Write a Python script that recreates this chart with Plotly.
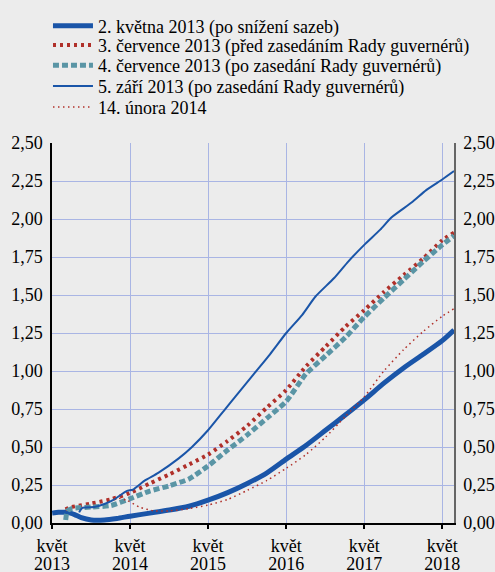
import plotly.graph_objects as go

# ---- data ----
s1_name = "2. května 2013 (po snížení sazeb)"
s1_dates = ["2013-05-02", "2013-06-01", "2013-07-15", "2013-08-15", "2013-09-15", "2013-11-01",
            "2014-01-01", "2014-03-01", "2014-05-01", "2014-08-01", "2014-11-01", "2015-02-01",
            "2015-05-01", "2015-08-01", "2015-11-01", "2016-02-01", "2016-05-01", "2016-08-01",
            "2016-11-01", "2017-02-01", "2017-05-01", "2017-08-01", "2017-11-01", "2018-02-01",
            "2018-05-01", "2018-06-25"]
s1_vals = [0.065, 0.07, 0.07, 0.055, 0.035, 0.02, 0.02, 0.03, 0.045, 0.065, 0.085, 0.11,
           0.15, 0.20, 0.26, 0.33, 0.42, 0.51, 0.61, 0.71, 0.81, 0.92, 1.02, 1.11, 1.20, 1.27]

s2_name = "3. července 2013 (před zasedáním Rady guvernérů)"
s2_dates = ["2013-07-03", "2013-08-01", "2013-11-01", "2014-02-01", "2014-05-01", "2014-08-01",
            "2014-11-01", "2015-02-01", "2015-05-01", "2015-08-01", "2015-11-01", "2016-02-01",
            "2016-05-01", "2016-08-01", "2016-11-01", "2017-02-01", "2017-05-01", "2017-08-01",
            "2017-11-01", "2018-02-01", "2018-05-01", "2018-06-25"]
s2_vals = [0.09, 0.105, 0.128, 0.156, 0.198, 0.26, 0.32, 0.385, 0.45, 0.54, 0.64, 0.76,
           0.875, 1.03, 1.16, 1.29, 1.40, 1.52, 1.63, 1.74, 1.86, 1.91]

s3_name = "4. července 2013 (po zasedání Rady guvernérů)"
s3_dates = ["2013-07-04", "2013-07-12", "2013-08-01", "2013-11-01", "2014-02-01", "2014-05-01",
            "2014-08-01", "2014-11-01", "2015-02-01", "2015-05-01", "2015-08-01", "2015-11-01",
            "2016-02-01", "2016-05-01", "2016-08-01", "2016-11-01", "2017-02-01", "2017-05-01",
            "2017-08-01", "2017-11-01", "2018-02-01", "2018-05-01", "2018-06-25"]
s3_vals = [0.02, 0.08, 0.095, 0.105, 0.115, 0.16, 0.21, 0.245, 0.29, 0.375, 0.48, 0.58,
           0.69, 0.80, 0.98, 1.10, 1.22, 1.355, 1.48, 1.60, 1.72, 1.83, 1.89]

s4_name = "5. září 2013 (po zasedání Rady guvernérů)"
s4_dates = ["2013-09-05", "2013-09-20", "2013-11-15", "2014-01-01", "2014-02-10", "2014-04-15",
            "2014-05-15", "2014-07-10", "2014-09-10", "2014-12-15", "2015-02-15", "2015-05-01",
            "2015-07-15", "2015-09-05", "2015-12-01", "2016-02-15", "2016-05-01", "2016-07-15",
            "2016-09-15", "2016-12-10", "2017-02-15", "2017-05-01", "2017-07-15", "2017-09-05",
            "2017-12-10", "2018-02-15", "2018-05-01", "2018-06-25"]
s4_vals = [0.07, 0.10, 0.105, 0.125, 0.15, 0.21, 0.22, 0.28, 0.33, 0.425, 0.50, 0.61,
           0.74, 0.83, 0.98, 1.11, 1.25, 1.37, 1.49, 1.61, 1.72, 1.83, 1.93, 2.01,
           2.11, 2.19, 2.26, 2.315]

s5_name = "14. února 2014"
s5_dates = ["2014-02-14", "2014-04-15", "2014-06-15", "2014-08-20", "2014-11-01", "2015-02-01",
            "2015-05-01", "2015-08-01", "2015-11-01", "2016-02-01", "2016-05-01", "2016-08-01",
            "2016-11-01", "2017-02-01", "2017-05-01", "2017-08-01", "2017-11-01", "2018-02-01",
            "2018-05-01", "2018-06-25"]
s5_vals = [0.17, 0.15, 0.105, 0.08, 0.08, 0.095, 0.118, 0.155, 0.215, 0.28, 0.36, 0.45,
           0.565, 0.70, 0.83, 1.0, 1.14, 1.26, 1.36, 1.41]

x_tick_vals = ["2013-05-01", "2014-05-01", "2015-05-01", "2016-05-01", "2017-05-01", "2018-05-01"]
x_tick_month = ["květ", "květ", "květ", "květ", "květ", "květ"]
x_tick_year = ["2013", "2014", "2015", "2016", "2017", "2018"]
y_tick_vals = [0, 0.25, 0.5, 0.75, 1.0, 1.25, 1.5, 1.75, 2.0, 2.25, 2.5]
x_range = ["2013-05-01", "2018-06-25"]

# ---- styling ----
BG = "#ECECEC"
BLUE = "#1A55A8"
RED = "#B0302A"
TEAL = "#5A95A5"
GRID = "#A9B5E4"
FONT = "Liberation Serif"
FS = 18

series = [
    (s1_name, s1_dates, s1_vals, dict(color=BLUE, width=5)),
    (s2_name, s2_dates, s2_vals, dict(color=RED, width=4, dash="3px,4px")),
    (s3_name, s3_dates, s3_vals, dict(color=TEAL, width=5, dash="6px,3px")),
    (s4_name, s4_dates, s4_vals, dict(color=BLUE, width=2)),
    (s5_name, s5_dates, s5_vals, dict(color=RED, width=1.5, dash="1.5px,3.5px")),
]
legend_names = ["legend", "legend2", "legend3", "legend4", "legend5"]
legend_rows_y = [1.308, 1.257, 1.204, 1.149, 1.094]

fig = go.Figure()
for (name, xs, ys, ln), lg in zip(series, legend_names):
    fig.add_trace(go.Scatter(x=xs, y=ys, name=name, mode="lines", legend=lg,
                             line=dict(shape="spline", smoothing=0.6, **ln)))
# invisible trace to activate the second x axis (year labels) and the right y axis
fig.add_trace(go.Scatter(x=[x_tick_vals[0]], y=[0], xaxis="x2", yaxis="y2", mode="lines",
                         showlegend=False, hoverinfo="skip", line=dict(width=0)))

legends = {}
for lg, ly in zip(legend_names, legend_rows_y):
    legends[lg] = dict(x=-0.01, y=ly, xanchor="left", yanchor="middle",
                       bgcolor="rgba(0,0,0,0)", itemwidth=40, borderwidth=0,
                       font=dict(size=FS, family=FONT, color="black"))

yax = dict(range=[0, 2.5], tickvals=y_tick_vals, tickformat=".2f",
           showgrid=True, gridcolor=GRID, gridwidth=1, zeroline=False,
           ticks="", ticklabelstandoff=4, tickfont=dict(size=FS, color="black", family=FONT))

fig.update_layout(
    width=495, height=572,
    paper_bgcolor=BG, plot_bgcolor=BG,
    separators=", ",
    font=dict(family=FONT, size=FS, color="black"),
    margin=dict(l=52, r=41, t=143, b=49, autoexpand=False),
    showlegend=True,
    xaxis=dict(type="date", range=x_range,
               tickvals=x_tick_vals, ticktext=x_tick_month,
               showgrid=True, gridcolor=GRID, gridwidth=1, zeroline=False,
               showline=True, linecolor="black", linewidth=1.5,
               ticks="outside", ticklen=4, tickcolor="black", tickwidth=1.5,
               ticklabelstandoff=2,
               tickfont=dict(size=FS, color="black", family=FONT)),
    xaxis2=dict(type="date", range=x_range, overlaying="x", side="bottom",
                tickvals=x_tick_vals, ticktext=x_tick_year,
                showgrid=False, zeroline=False, showline=False, ticks="",
                ticklabelstandoff=28,
                tickfont=dict(size=FS, color="black", family=FONT)),
    yaxis=dict(**yax, showline=True, linecolor="black", linewidth=1.5, side="left"),
    yaxis2=dict(**yax, overlaying="y", side="right", showline=True, linecolor="#666666", linewidth=1.5),
    **legends,
)

fig.write_html("out.html", config={"displayModeBar": False},
               post_script="document.body.style.margin='0px';document.body.style.background='#ECECEC';")
